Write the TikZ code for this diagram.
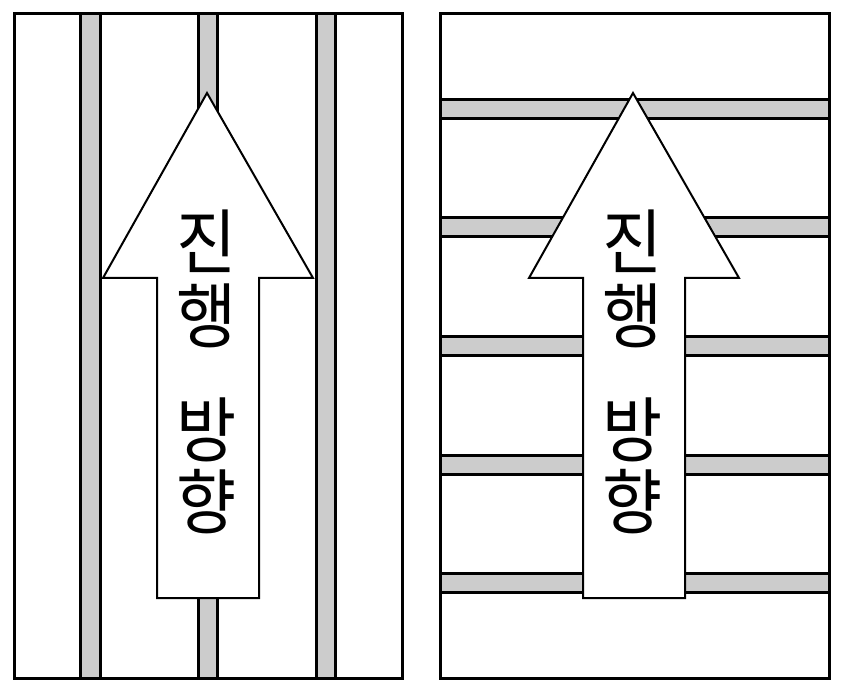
\documentclass[tikz,border=0pt]{standalone}
\usepackage{fontspec}
\newfontfamily\kr{Noto Sans CJK KR}
\tikzset{
  strip/.style={draw=black,line width=3pt,fill=stripgray},
  panel/.style={draw=black,line width=3pt},
  bigarrow/.style={draw=black,line width=2pt,fill=white,line join=miter},
  glyph/.style={font=\kr\fontsize{71}{71}\selectfont,inner sep=0pt,anchor=center,xscale=0.92}
}
\definecolor{stripgray}{HTML}{CCCCCC}
\begin{document}
\begin{tikzpicture}[x=1pt,y=-1pt]
\useasboundingbox (0,0) rectangle (843,692);
\fill[white] (0,0) rectangle (843,692);
% left panel strips
\foreach \a/\b in {80.5/100.5,198.5/217.5,316.5/335.5}{
  \draw[strip] (\a,14) rectangle (\b,678);
}
\draw[panel] (14,14) rectangle (402,678);
% right panel strips
\foreach \k in {0,...,4}{
  \pgfmathsetmacro\ya{99.5+118.5*\k}
  \pgfmathsetmacro\yb{\ya+19}
  \draw[strip] (440,\ya) rectangle (829,\yb);
}
\draw[panel] (440,14) rectangle (829,678);
% arrows
\draw[bigarrow] (207,93) -- (313,278) -- (259,278) -- (259,598) -- (157,598) -- (157,278) -- (103,278) -- cycle;
\draw[bigarrow] (633,93) -- (739,278) -- (685,278) -- (685,598) -- (583,598) -- (583,278) -- (529,278) -- cycle;
% texts
\foreach \dx/\s in {0/L,426/R}{
  \node[glyph] (jin\s)  at (207+\dx,241.5) {진};
  \node[glyph] (haeng\s) at (207+\dx,316) {행};
  \node[glyph] (bang\s) at (207+\dx,430) {방};
  \node[glyph] (hyang\s) at (207+\dx,501.5) {향};
}
\end{tikzpicture}
\end{document}
